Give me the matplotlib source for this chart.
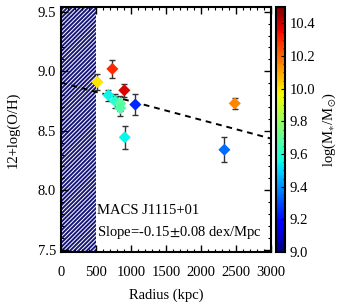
import numpy as np
import matplotlib
matplotlib.use('Agg')
import matplotlib.pyplot as plt
from matplotlib.patches import Rectangle
from matplotlib.ticker import MultipleLocator

# data
radius = [519, 733, 904, 676, 771, 847, 847, 1061, 910, 2481, 2333]
oh = [8.91, 9.02, 8.84, 8.80, 8.75, 8.73, 8.69, 8.72, 8.445, 8.73, 8.34]
oh_err = [0.065, 0.076, 0.055, 0.046, 0.06, 0.06, 0.07, 0.085, 0.098, 0.048, 0.105]
logmass = [10.0, 10.3, 10.38, 9.55, 9.6, 9.7, 9.67, 9.25, 9.55, 10.15, 9.35]
fit_x = [0, 3000]
fit_icpt = 8.905
fit_slope = -0.157  # dex/Mpc

plt.rcParams['font.family'] = ['Liberation Serif', 'DejaVu Serif']
plt.rcParams['mathtext.fontset'] = 'stix'
plt.rcParams['hatch.linewidth'] = 1.4
plt.rcParams['hatch.color'] = '#16167a'

fig = plt.figure(figsize=(3.41, 3.07), dpi=100)
ax = fig.add_axes([0.179, 0.179, 0.616, 0.798])
cax = fig.add_axes([0.809, 0.179, 0.027, 0.798])

ax.add_patch(Rectangle((0, 7.4), 500, 2.3, facecolor='white', edgecolor='#16167a',
                       hatch='////////', linewidth=0, zorder=1))

fx = np.array(fit_x)
ax.plot(fx, fit_icpt + fit_slope * fx / 1000., 'k--', lw=1.4, dashes=(3, 2.5), zorder=2)

ax.errorbar(radius, oh, yerr=oh_err, fmt='none', ecolor='#333333', elinewidth=1,
            capsize=2.5, capthick=1, zorder=3)
sc = ax.scatter(radius, oh, c=logmass, cmap='jet', vmin=9.0, vmax=10.5, marker='D',
                s=38, edgecolors='none', zorder=4)

ax.text(520, 7.83, 'MACS J1115+01', fontsize=10.5, va='center')
ax.text(520, 7.645, 'Slope=-0.15$\\pm$0.08 dex/Mpc', fontsize=10.5, va='center')

ax.set_xlim(0, 3000)
ax.set_ylim(7.48, 9.54)
ax.xaxis.set_major_locator(MultipleLocator(500))
ax.xaxis.set_minor_locator(MultipleLocator(100))
ax.yaxis.set_major_locator(MultipleLocator(0.5))
ax.yaxis.set_minor_locator(MultipleLocator(0.1))
ax.tick_params(which='both', direction='in', top=True, right=True, labelsize=10.5)
ax.tick_params(which='major', length=5, width=1)
ax.tick_params(which='minor', length=2.5, width=0.8)
ax.tick_params(axis='x', pad=10)
for s in ax.spines.values():
    s.set_linewidth(1.5)
ax.set_xlabel('Radius (kpc)', fontsize=10.5, labelpad=7)
ax.set_ylabel('12+log(O/H)', fontsize=10.5, labelpad=13)

cb = fig.colorbar(sc, cax=cax)
cb.set_ticks([9.0, 9.2, 9.4, 9.6, 9.8, 10.0, 10.2, 10.4])
cb.ax.yaxis.set_minor_locator(MultipleLocator(0.05))
cb.ax.tick_params(which='both', direction='in', labelsize=10.5, pad=3)
cb.ax.tick_params(which='major', length=3)
cb.ax.tick_params(which='minor', length=1.5)
cb.outline.set_linewidth(1.5)
cb.set_label('log(M$_{\\ast}$/M$_{\\odot}$)', fontsize=10.5, labelpad=4)

fig.savefig('out.png', dpi=100)
